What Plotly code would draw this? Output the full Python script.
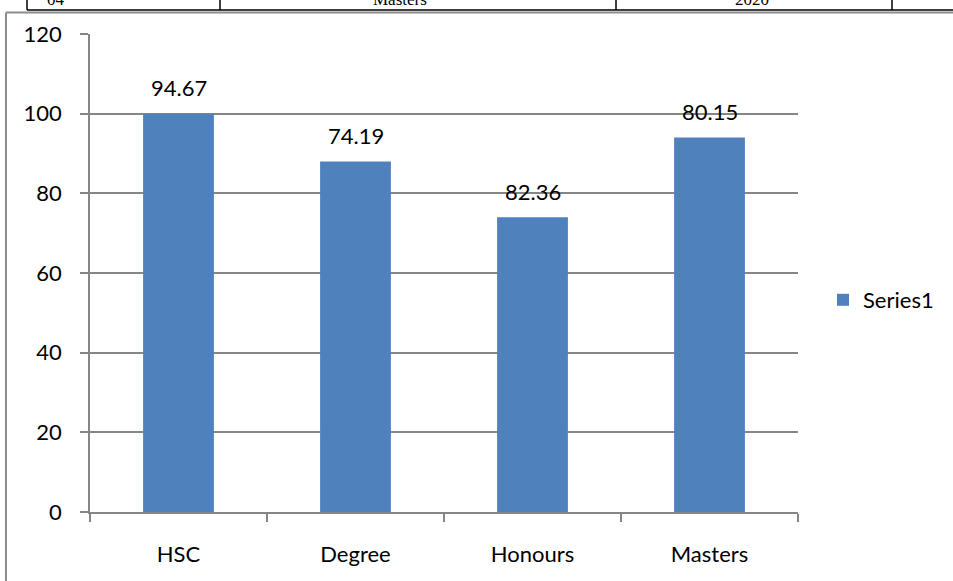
import plotly.graph_objects as go

categories = ["HSC", "Degree", "Honours", "Masters"]
bar_values = [100, 88, 74, 94]
bar_labels = ["94.67", "74.19", "82.36", "80.15"]
y_ticks = [0, 20, 40, 60, 80, 100, 120]
series_name = "Series1"
table_cells = ["04", "Masters", "2020"]

W, H = 953, 581
ML, MR, MT, MB = 90, 155, 34, 69
PW, PH = W - ML - MR, H - MT - MB


def px(x):
    return (x - ML) / PW


def py(y):
    return (H - MB - y) / PH


FONT = "Lato"
BLUE = "#4F81BD"
GRID = "#868686"

fig = go.Figure()
fig.add_trace(go.Bar(
    x=categories, y=bar_values, name=series_name,
    marker=dict(color=BLUE, line=dict(width=0)),
    showlegend=True, hoverinfo="skip",
))

annotations = []
for c, v, t in zip(categories, bar_values, bar_labels):
    annotations.append(dict(x=c, y=v, text=t, showarrow=False, xref="x", yref="y",
                            yanchor="middle", yshift=26,
                            font=dict(family=FONT, size=22, color="black")))

# clipped table row above the chart
for t, xc in zip(table_cells, [56, 400, 752]):
    annotations.append(dict(x=px(xc), y=py(11), xref="paper", yref="paper", text=t,
                            showarrow=False, yanchor="bottom", xanchor="center",
                            font=dict(family="Liberation Serif", size=17, color="black")))

shapes = []
# chart frame (left and top)
shapes.append(dict(type="line", xref="paper", yref="paper", x0=px(6), x1=px(6),
                   y0=py(12.5), y1=py(H + 2), line=dict(color="#8c8c8c", width=2)))
shapes.append(dict(type="line", xref="paper", yref="paper", x0=px(6), x1=px(W + 2),
                   y0=py(12.5), y1=py(12.5), line=dict(color="#8c8c8c", width=2)))
# table lines
shapes.append(dict(type="line", xref="paper", yref="paper", x0=px(27), x1=px(W + 2),
                   y0=py(10), y1=py(10), line=dict(color="black", width=1.5)))
for xv in [27, 220, 616, 892]:
    shapes.append(dict(type="line", xref="paper", yref="paper", x0=px(xv), x1=px(xv),
                       y0=py(-2), y1=py(10), line=dict(color="black", width=1.5)))

fig.update_layout(
    width=W, height=H,
    margin=dict(l=ML, r=MR, t=MT, b=MB),
    paper_bgcolor="white", plot_bgcolor="white",
    bargap=0.6,
    font=dict(family=FONT, size=22, color="black"),
    showlegend=True,
    hovermode=False,
    legend=dict(x=px(823), y=py(300), xanchor="left", yanchor="middle",
                font=dict(family=FONT, size=22, color="black"),
                bgcolor="rgba(0,0,0,0)", itemsizing="constant"),
    annotations=annotations,
    shapes=shapes,
)
fig.update_xaxes(
    type="category", showline=True, linecolor=GRID, linewidth=1.5,
    ticks="outside", tickson="boundaries", ticklen=8, tickcolor=GRID, tickwidth=1.5,
    showgrid=False, ticklabelstandoff=22,
    tickfont=dict(family=FONT, size=22, color="black"),
)
fig.update_yaxes(
    range=[0, 120], tickvals=y_ticks, showline=True, linecolor=GRID, linewidth=1.5,
    ticks="outside", ticklen=8, tickcolor=GRID, tickwidth=1.5,
    showgrid=True, gridcolor=GRID, gridwidth=1.5, zeroline=False,
    ticklabelstandoff=14,
    tickfont=dict(family=FONT, size=22, color="black"),
)

fig.write_html("out.html", config={"displayModeBar": False},
               post_script="document.body.style.margin='0px';document.body.style.padding='0px';")
